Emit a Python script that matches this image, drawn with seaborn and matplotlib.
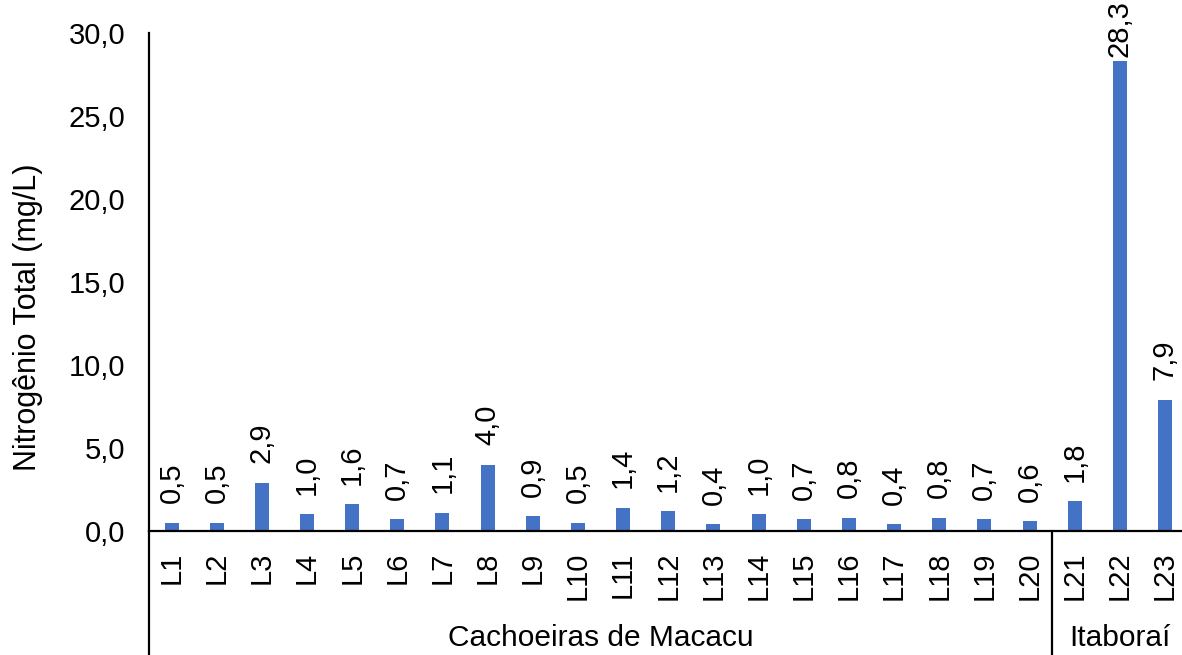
import matplotlib
matplotlib.use("Agg")
import matplotlib.pyplot as plt
import matplotlib.transforms as mtransforms
import seaborn as sns
import pandas as pd

sites = ["L1", "L2", "L3", "L4", "L5", "L6", "L7", "L8", "L9", "L10", "L11", "L12",
         "L13", "L14", "L15", "L16", "L17", "L18", "L19", "L20", "L21", "L22", "L23"]
values = [0.5, 0.5, 2.9, 1.0, 1.6, 0.7, 1.1, 4.0, 0.9, 0.5, 1.4, 1.2,
          0.4, 1.0, 0.7, 0.8, 0.4, 0.8, 0.7, 0.6, 1.8, 28.3, 7.9]
groups = ["Cachoeiras de Macacu"] * 20 + ["Itaboraí"] * 3
yticks = [0, 5, 10, 15, 20, 25, 30]

sns.set_style("white")
plt.rcParams['font.family'] = ['Liberation Sans', 'DejaVu Sans']
plt.rcParams['text.color'] = 'black'
plt.rcParams['axes.labelcolor'] = 'black'
plt.rcParams['xtick.color'] = 'black'
plt.rcParams['ytick.color'] = 'black'

df = pd.DataFrame({"site": sites, "value": values, "group": groups})

fig = plt.figure(figsize=(11.82, 6.55), dpi=100)
ax = fig.add_axes([0.126, 0.1893, 0.8787, 0.7603])

sns.barplot(data=df, x="site", y="value", color="#4472C4", width=0.31,
            saturation=1, ax=ax, edgecolor="none")

ax.set_xlim(-0.5, len(sites) - 0.5)
ax.set_ylim(0, 30)
ax.set_yticks(yticks)
ax.set_yticklabels([f"{t:.1f}".replace(".", ",") for t in yticks], fontsize=21)
ax.tick_params(axis="y", length=0, pad=17)
ax.tick_params(axis="x", length=0, pad=15, labelsize=21, labelrotation=90)
ax.set_xlabel("")
ax.set_ylabel("Nitrogênio Total (mg/L)", fontsize=22)
ax.yaxis.set_label_coords(-0.1166, 0.43)
ax.yaxis.label.set_va("center")

for s in ["top", "right"]:
    ax.spines[s].set_visible(False)
for s in ["left", "bottom"]:
    ax.spines[s].set_color("black")
    ax.spines[s].set_linewidth(1.6)

# value labels
fig.canvas.draw()
renderer = fig.canvas.get_renderer()
for i, v in enumerate(values):
    lbl = f"{v:.1f}".replace(".", ",")
    t = ax.annotate(lbl, xy=(i, v), xytext=(0, 14), textcoords="offset points",
                    rotation=90, ha="center", va="bottom", fontsize=21,
                    annotation_clip=False)
    bb = t.get_window_extent(renderer)
    if bb.y1 > fig.bbox.height:
        t.remove()
        trans = mtransforms.blended_transform_factory(ax.transData, fig.transFigure)
        ax.text(i, 1.0, lbl, transform=trans, rotation=90, ha="center",
                va="top", fontsize=21)

# group separators and labels
btrans = mtransforms.blended_transform_factory(ax.transData, ax.transAxes)
group_names = list(dict.fromkeys(groups))
start = 0
for g in group_names:
    n = groups.count(g)
    end = start + n
    center = (start + end - 1) / 2
    ax.text(center, -0.215, g, transform=btrans, ha="center", va="center",
            fontsize=21.5)
    ax.plot([start - 0.5, start - 0.5], [0, -0.26], transform=btrans,
            color="black", lw=1.6, clip_on=False)
    start = end

fig.savefig("out.png", dpi=100)
